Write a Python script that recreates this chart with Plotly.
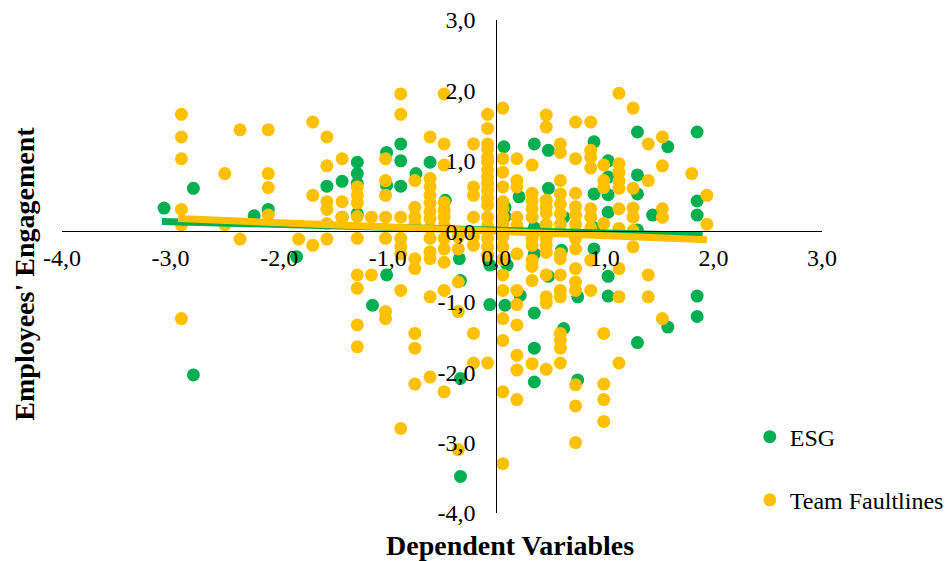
import plotly.graph_objects as go

# ---------------- data ----------------
tick_vals = [-4, -3, -2, -1, 0, 1, 2, 3]
tick_text = ["-4,0", "-3,0", "-2,0", "-1,0", "0,0", "1,0", "2,0", "3,0"]

esg_x = [-3.06, -2.79, -2.79, -2.23, -2.10, -1.84, -1.56, -1.42, -1.42, -1.28,
         -1.28, -1.28, -1.28, -1.01, -1.01, -1.01, -1.14, -0.88, -0.88, -0.88,
         -0.74, -0.61, -0.47, -0.34, -0.33, -0.33, -0.33, -0.06, -0.06, 0.07,
         0.08, 0.08, 0.10, 0.08, 0.21, 0.22, 0.35, 0.35, 0.35, 0.35,
         0.35, 0.35, 0.48, 0.48, 0.48, 0.60, 0.62, 0.62, 0.75, 0.75,
         0.90, 0.90, 0.90, 1.03, 1.03, 1.03, 1.03, 1.03, 1.03, 1.30,
         1.30, 1.30, 1.30, 1.30, 1.44, 1.58, 1.58, 1.85, 1.85, 1.85,
         1.85, 1.85, 0.90]
esg_y = [0.33, 0.61, -2.04, 0.22, 0.31, -0.36, 0.64, 0.71, 0.20, 0.98,
         0.82, 0.68, 0.25, 1.12, 0.65, -0.62, -1.05, 1.24, 1.00, 0.64,
         0.82, 0.98, 0.44, -0.39, -0.70, -2.09, -3.48, -0.48, -1.04, 1.20,
         0.34, 0.21, -0.48, -1.05, 0.49, -0.91, 1.24, 0.05, -0.32, -1.16,
         -1.66, -2.14, 1.15, 0.61, -0.64, -0.27, -1.38, 0.20, -0.93, -2.11,
         1.27, 0.53, -0.25, 1.00, 0.77, 0.52, 0.27, -0.64, -0.92, 1.41,
         0.80, 0.53, 0.02, -1.58, 0.23, 1.20, -1.36, 1.41, 0.43, 0.23,
         -0.92, -1.21, 0.05]

# Team Faultlines: x positions of the point columns and the y values in each
tf_cols_x = [-2.90, -2.50, -2.36, -2.10, -1.82, -1.69, -1.56, -1.42, -1.28, -1.15,
             -1.02, -0.88, -0.75, -0.61, -0.48, -0.35, -0.21, -0.08, 0.06, 0.19,
             0.33, 0.46, 0.59, 0.73, 0.87, 0.99, 1.13, 1.26, 1.40, 1.53,
             1.80, 1.94]
tf_cols_y = [
    [1.66, 1.34, 1.03, 0.31, 0.09, -1.24],
    [0.82, 0.09],
    [1.44, -0.11],
    [1.44, 0.82, 0.62, 0.23],
    [-0.11],
    [1.55, 0.51, -0.20],
    [1.34, 0.93, 0.42, 0.31, 0.11, -0.11],
    [1.03, 0.42, 0.20],
    [0.63, 0.51, 0.40, 0.21, -0.10, -0.62, -0.81, -1.33, -1.64],
    [0.20, -0.62],
    [1.03, 0.72, 0.51, 0.20, -0.10, -1.14, -1.24],
    [1.95, 1.66, 0.20, -0.10, -0.22, -0.32, -0.84, -2.80],
    [0.72, 0.34, 0.20, 0.10, -0.39, -0.53, -1.45, -1.66, -2.17],
    [1.34, 0.75, 0.63, 0.51, 0.40, 0.28, 0.18, 0.05, -0.10, -0.29, -0.39, -0.93, -2.07],
    [1.95, 1.24, 0.94, 0.41, 0.30, 0.20, 0.08, -0.10, -0.25, -0.44, -0.84, -2.28],
    [-0.08, -0.25, -0.72, -1.14, -3.10],
    [1.24, 0.63, 0.51, 0.20, -0.08, -0.20, -1.45, -1.87],
    [1.66, 1.46, 1.24, 1.17, 1.05, 0.98, 0.87, 0.77, 0.68, 0.58, 0.47, 0.37, 0.20, 0.08,
     -0.10, -0.22, -0.34, -1.87],
    [1.75, 1.03, 0.84, 0.63, 0.42, 0.32, 0.20, 0.10, -0.08, -0.22, -0.40, -0.62, -0.84,
     -1.24, -1.55, -2.28, -3.30],
    [1.03, 0.72, 0.63, 0.20, 0.08, -0.32, -0.84, -1.04, -1.33, -1.76, -1.97, -2.39],
    [0.94, 0.54, 0.43, 0.32, 0.20, -0.10, -0.20, -0.41, -0.50, -0.70, -1.88],
    [1.65, 1.48, 0.44, 0.35, 0.26, 0.10, -0.10, -0.20, -0.30, -0.62, -0.93, -1.02, -1.96],
    [1.24, 1.12, 0.72, 0.53, 0.39, 0.25, 0.10, -0.32, -0.39, -0.62, -0.84, -0.93, -1.45,
     -1.55, -1.66, -1.87],
    [1.55, 1.03, 0.54, 0.35, 0.23, 0.10, -0.10, -0.25, -0.53, -0.72, -0.84, -2.18, -2.48, -3.00],
    [1.55, 1.15, 1.05, 0.90, 0.32, 0.20, 0.05, -0.41, -0.84],
    [0.94, 0.72, 0.62, 0.11, -1.45, -2.17, -2.39, -2.70],
    [1.96, 0.96, 0.84, 0.72, 0.61, 0.32, 0.04, -0.53, -0.93, -1.87],
    [1.75, 0.61, 0.33, 0.20, 0.01, -0.22],
    [1.24, 0.72, -0.62, -0.93],
    [1.34, 0.93, 0.32, 0.20, -1.24],
    [0.82],
    [0.51, 0.10],
]

# linear trend lines (end points)
esg_trend_x = [-3.08, 1.90]
esg_trend_y = [0.14, -0.06]
tf_trend_x = [-2.93, 1.94]
tf_trend_y = [0.18, -0.12]

series_names = ["ESG", "Team Faultlines"]
x_title = "Dependent Variables"
y_title = "Employees' Engagement"

# ---------------- build figure ----------------
tf_x, tf_y = [], []
for cx, ys in zip(tf_cols_x, tf_cols_y):
    for v in ys:
        tf_x.append(cx)
        tf_y.append(v)

GREEN = "#00B050"
YELLOW = "#FFC000"
FONT = "Liberation Serif"

fig = go.Figure()
fig.add_trace(go.Scatter(x=esg_x, y=esg_y, mode="markers", name=series_names[0],
                         marker=dict(color=GREEN, size=13, line=dict(width=0)),
                         legend="legend"))
fig.add_trace(go.Scatter(x=tf_x, y=tf_y, mode="markers", name=series_names[1],
                         marker=dict(color=YELLOW, size=13, line=dict(width=0)),
                         legend="legend2"))
fig.add_trace(go.Scatter(x=esg_trend_x, y=esg_trend_y, mode="lines", showlegend=False,
                         line=dict(color=GREEN, width=7)))
fig.add_trace(go.Scatter(x=tf_trend_x, y=tf_trend_y, mode="lines", showlegend=False,
                         line=dict(color=YELLOW, width=7)))

tickfont = dict(family=FONT, size=24, color="black")
fig.update_layout(
    width=949, height=561,
    margin=dict(l=62, r=127, t=20, b=48, autoexpand=False),
    paper_bgcolor="white", plot_bgcolor="white",
    font=dict(family=FONT, color="black"),
    xaxis=dict(range=[-4, 3], domain=[0, 1], anchor="free", position=4 / 7,
               showline=True, linecolor="black", linewidth=1,
               ticks="outside", ticklen=5, tickcolor="rgba(0,0,0,0)",
               tickvals=tick_vals, ticktext=tick_text, tickfont=tickfont,
               showgrid=False, zeroline=False),
    yaxis=dict(range=[-4, 3], domain=[0, 1], anchor="free", position=4 / 7,
               showline=True, linecolor="black", linewidth=1,
               ticks="outside", ticklen=16, tickcolor="rgba(0,0,0,0)",
               tickvals=tick_vals, ticktext=tick_text, tickfont=tickfont,
               showgrid=False, zeroline=False),
    legend=dict(x=0.905, y=0.154, xanchor="left", yanchor="middle",
                bgcolor="rgba(0,0,0,0)", font=dict(family=FONT, size=24, color="black")),
    legend2=dict(x=0.905, y=0.026, xanchor="left", yanchor="middle",
                 bgcolor="rgba(0,0,0,0)", font=dict(family=FONT, size=24, color="black")),
    annotations=[
        dict(text=x_title, xref="paper", yref="paper", x=0.5895, y=-0.065,
             xanchor="center", yanchor="middle", showarrow=False,
             font=dict(family=FONT, size=28, color="black", weight="bold")),
        dict(text=y_title, xref="paper", yref="paper", x=-0.049, y=0.485,
             xanchor="center", yanchor="middle", showarrow=False, textangle=-90,
             font=dict(family=FONT, size=28, color="black", weight="bold")),
    ],
    showlegend=True,
)

fig.write_html("out.html")
